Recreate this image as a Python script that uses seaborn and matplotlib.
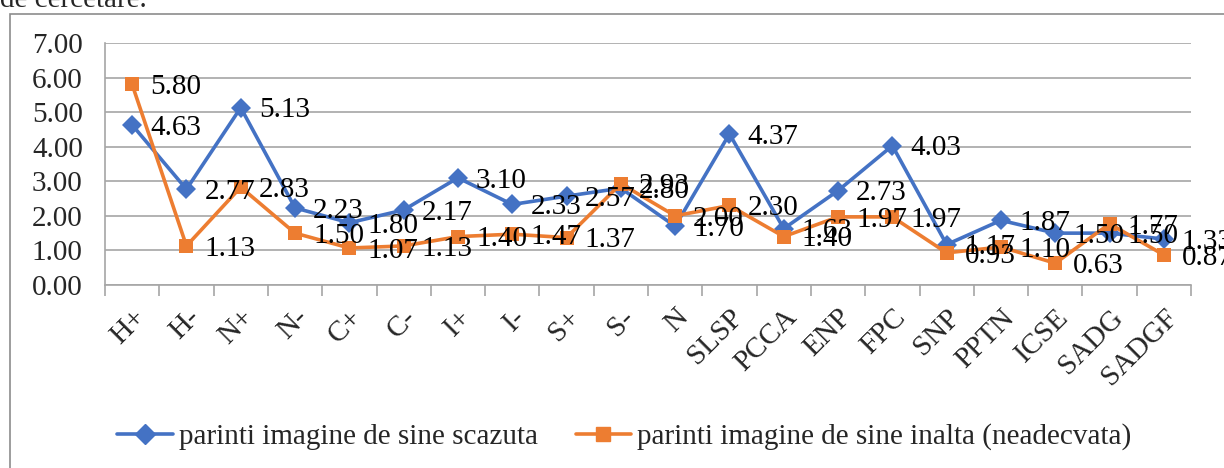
import matplotlib
matplotlib.use("Agg")
import matplotlib.pyplot as plt
import seaborn as sns
import pandas as pd
from matplotlib.patches import Rectangle
from matplotlib.ticker import FixedLocator

categories = ["H+", "H-", "N+", "N-", "C+", "C-", "I+", "I-", "S+", "S-", "N",
              "SLSP", "PCCA", "ENP", "FPC", "SNP", "PPTN", "ICSE", "SADG", "SADGF"]
scazuta = [4.63, 2.77, 5.13, 2.23, 1.80, 2.17, 3.10, 2.33, 2.57, 2.80, 1.70,
           4.37, 1.63, 2.73, 4.03, 1.17, 1.87, 1.50, 1.50, 1.33]
inalta = [5.80, 1.13, 2.83, 1.50, 1.07, 1.13, 1.40, 1.47, 1.37, 2.93, 2.00,
          2.30, 1.40, 1.97, 1.97, 0.93, 1.10, 0.63, 1.77, 0.87]
yticks = [0, 1, 2, 3, 4, 5, 6, 7]
series_names = ["parinti imagine de sine scazuta",
                "parinti imagine de sine inalta (neadecvata)"]

sns.set_theme(style="white")
plt.rcParams['font.family'] = ['Liberation Serif', 'DejaVu Serif']

df = pd.DataFrame({
    "cat": categories * 2,
    "val": scazuta + inalta,
    "series": [series_names[0]] * len(categories) + [series_names[1]] * len(categories),
})

fig = plt.figure(figsize=(12.24, 4.68), dpi=100)
ax = fig.add_axes([105 / 1224, 1 - 285 / 468, (1191 - 105) / 1224, (285 - 43) / 468])

colors = {series_names[0]: "#4472C4", series_names[1]: "#ED7D31"}
sns.lineplot(data=df, x="cat", y="val", hue="series", style="series",
             markers={series_names[0]: "D", series_names[1]: "s"},
             dashes=False, palette=colors, sort=False, linewidth=2.6,
             markersize=10, markeredgewidth=0, ax=ax, legend=False)

# data labels
fs = 21
for vals in (scazuta, inalta):
    for i, v in enumerate(vals):
        ax.annotate(f"{v:.2f}", (i, v), xytext=(13, -2), textcoords="offset points",
                    ha="left", va="center", fontsize=fs, color="black")

ax.set_xlim(-0.5, len(categories) - 0.5)
ax.set_ylim(0, 7)
ax.set_yticks(yticks)
ax.set_yticklabels([f"{t:.2f}" for t in yticks])
ax.yaxis.grid(True, color="#a6a6a6", linewidth=1.2)
ax.set_xlabel("")
ax.set_ylabel("")

ax.set_xticks(range(len(categories)))
ax.set_xticklabels(categories, rotation=45, ha="right", rotation_mode="anchor", fontsize=fs)
ax.xaxis.set_minor_locator(FixedLocator([i - 0.5 for i in range(len(categories) + 1)]))
ax.tick_params(axis="x", which="major", length=0, pad=14)
ax.tick_params(axis="x", which="minor", length=8, width=1.2, color="#a6a6a6", direction="out")
ax.tick_params(axis="y", which="major", length=7, width=1.2, color="#a6a6a6", labelsize=fs, pad=9)
ax.xaxis.set_tick_params(bottom=True, which="minor")

for s in ("top", "right"):
    ax.spines[s].set_visible(False)
for s in ("left", "bottom"):
    ax.spines[s].set_color("#a6a6a6")
    ax.spines[s].set_linewidth(1.2)

# legend
handles = [plt.Line2D([], [], color=colors[n], marker=m, markersize=10, linewidth=2.6)
           for n, m in zip(series_names, ["D", "s"])]
fig.legend(handles, series_names, loc="center", bbox_to_anchor=(0.51, 1 - 437 / 468),
           ncol=2, frameon=False, fontsize=fs, handlelength=1.9, columnspacing=1.3,
           handletextpad=0.2)

# outer chart border and clipped preceding text
fig.patches.append(Rectangle((10 / 1224, -0.05), 1.1, 1 - 14 / 468 + 0.05,
                             transform=fig.transFigure, fill=False,
                             edgecolor="#8c8c8c", linewidth=1.2))
fig.text(0, 1.0, "de cercetare.", ha="left", va="center", fontsize=fs)

fig.savefig("out.png", dpi=100)
